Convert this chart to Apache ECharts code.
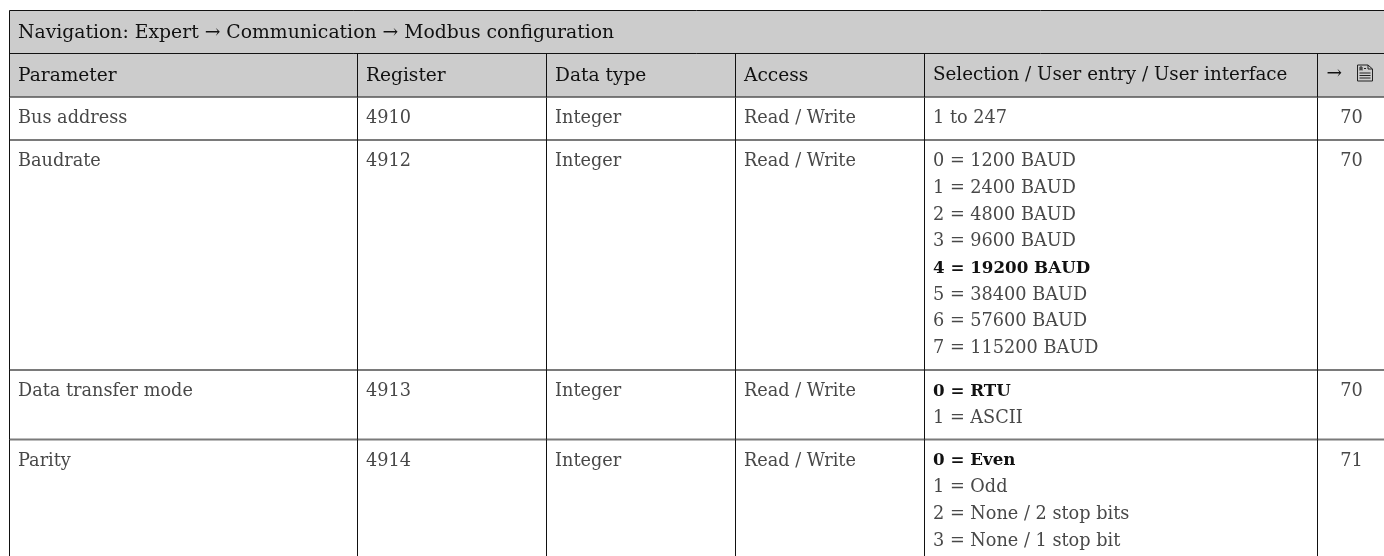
<!DOCTYPE html>
<html>
<head>
<meta charset="utf-8">
<style>
  html, body { margin: 0; padding: 0; background: #fff; }
  #main { width: 1384px; height: 556px; }
</style>
<script src="https://cdn.jsdelivr.net/npm/echarts@6/dist/echarts.min.js"></script>
</head>
<body>
<div id="main"></div>
<script>
// table content
const navigationTitle = 'Navigation: Expert \u2192 Communication \u2192 Modbus configuration';
const columnTitles = ['Parameter', 'Register', 'Data type', 'Access', 'Selection / User entry / User interface'];
const parameters = ['Bus address', 'Baudrate', 'Data transfer mode', 'Parity'];
const registers = ['4910', '4912', '4913', '4914'];
const dataTypes = ['Integer', 'Integer', 'Integer', 'Integer'];
const accessModes = ['Read / Write', 'Read / Write', 'Read / Write', 'Read / Write'];
const selections = [
  ['1 to 247'],
  ['0 = 1200 BAUD', '1 = 2400 BAUD', '2 = 4800 BAUD', '3 = 9600 BAUD', '4 = 19200 BAUD', '5 = 38400 BAUD', '6 = 57600 BAUD', '7 = 115200 BAUD'],
  ['0 = RTU', '1 = ASCII'],
  ['0 = Even', '1 = Odd', '2 = None / 2 stop bits', '3 = None / 1 stop bit']
];
// which selection line is the factory default (printed bold), -1 = none
const defaultLines = [-1, 4, 0, 0];
const pages = ['70', '70', '70', '71'];

// layout, in page pixels
const colX = [9.5, 357.5, 546.5, 735.5, 924.5, 1317.5];
const tableTop = 10.5;
const titleHeight = 43;
const headHeight = 43.5;
const lineHeight = 26.7;
const firstLine = 21.5;
const headLine = 22.2;
const padLeft = 8.5;
const pageCenter = 1351.5;
const fontFamily = '"DejaVu Serif", serif';
const bodySize = 17.7;
const headSize = 18.6;
const titleSize = 18.8;
const lastHeadSize = 18.3;
const boldSize = 16.7;

const headY = tableTop + titleHeight;
const bodyY = headY + headHeight;

// y of each body row's top edge comes from how many lines it holds
const rowTops = [];
selections.reduce((y, lines, i) => {
  rowTops[i] = y;
  return y + 43 + (lines.length - 1) * lineHeight;
}, bodyY);

const chart = echarts.init(document.getElementById('main'), null, { renderer: 'canvas' });

const textEl = (api, x, y, text, opt = {}) => {
  const p = api.coord([x, y]);
  return {
    type: 'text',
    style: {
      x: p[0],
      y: p[1],
      text,
      fill: opt.fill || '#484848',
      font: `${opt.bold ? 'bold ' : ''}${opt.size || bodySize}px ${fontFamily}`,
      textAlign: opt.align || 'left',
      textVerticalAlign: 'middle'
    }
  };
};

const lineEl = (api, x1, y1, x2, y2, stroke, width) => {
  const a = api.coord([x1, y1]);
  const b = api.coord([x2, y2]);
  return {
    type: 'line',
    shape: { x1: a[0], y1: a[1], x2: b[0], y2: b[1] },
    style: { stroke, lineWidth: width }
  };
};

const rectEl = (api, x1, y1, x2, y2, fill) => {
  const a = api.coord([x1, y1]);
  const b = api.coord([x2, y2]);
  return {
    type: 'rect',
    shape: { x: a[0], y: a[1], width: b[0] - a[0], height: b[1] - a[1] },
    style: { fill }
  };
};

// little "see page" document symbol of the last column head
const pageIcon = (api, x, y) => {
  const p = api.coord([x, y]);
  return {
    type: 'path',
    x: p[0],
    y: p[1],
    shape: {
      pathData: 'M0.5 0.5H11L15.5 4.5V16.5H0.5Z M2.5 8.5H13.5 M2.5 11H13.5 M2.5 13.5H13.5 M3 6V2.5L5 2.5V6 M3 4.5H5 M7 4H9 M11 0.5V4.5H15.5',
      layout: 'none'
    },
    style: { fill: 'none', stroke: '#222', lineWidth: 1 }
  };
};

const renderHeader = (params, api) => {
  const right = api.getWidth();
  const children = [
    rectEl(api, colX[0], tableTop, right, bodyY, '#cccccc'),
    lineEl(api, colX[0], tableTop, right, tableTop, '#111', 1),
    lineEl(api, colX[0], headY, right, headY, '#111', 1),
    lineEl(api, colX[0], bodyY, right, bodyY, '#555', 1.5),
    textEl(api, colX[0] + padLeft, tableTop + headLine, navigationTitle, { fill: '#111', size: titleSize })
  ];
  colX.slice(1).forEach(x => children.push(lineEl(api, x, headY, x, bodyY, '#111', 1)));
  columnTitles.forEach((t, i) => {
    const size = i === columnTitles.length - 1 ? lastHeadSize : headSize;
    children.push(textEl(api, colX[i] + padLeft, headY + headLine, t, { fill: '#111', size }));
  });
  children.push(textEl(api, colX[5] + 9, headY + 21, '\u2192', { fill: '#111', size: headSize }));
  children.push(pageIcon(api, 1357, headY + 11));
  children.push(lineEl(api, colX[0], tableTop, colX[0], bodyY, '#111', 1));
  return { type: 'group', children };
};

const renderRow = (params, api) => {
  const i = api.value(0);
  const top = rowTops[i];
  const lines = selections[i];
  const bottom = top + 43 + (lines.length - 1) * lineHeight;
  const textY = top + firstLine;
  const children = [];
  children.push(lineEl(api, colX[0], bottom, api.getWidth(), bottom, '#7a7a7a', 2));
  colX.forEach(x => children.push(lineEl(api, x, top, x, bottom, '#111', 1)));
  children.push(textEl(api, colX[0] + padLeft, textY, parameters[i]));
  children.push(textEl(api, colX[1] + padLeft, textY, registers[i]));
  children.push(textEl(api, colX[2] + padLeft, textY, dataTypes[i]));
  children.push(textEl(api, colX[3] + padLeft, textY, accessModes[i]));
  lines.forEach((t, k) => {
    const bold = k === defaultLines[i];
    children.push(textEl(api, colX[4] + padLeft, textY + k * lineHeight, t, bold ? { bold: true, fill: '#111', size: boldSize } : {}));
  });
  children.push(textEl(api, pageCenter, textY, pages[i], { align: 'center' }));
  return { type: 'group', children };
};

chart.setOption({
  animation: false,
  tooltip: { show: false },
  grid: { left: 0, right: 0, top: 0, bottom: 0 },
  xAxis: { type: 'value', min: 0, max: 1384, show: false },
  yAxis: { type: 'value', min: 0, max: 556, inverse: true, show: false },
  series: [
    { type: 'custom', silent: true, clip: true, renderItem: renderRow, data: parameters.map((p, i) => [i]), encode: { x: 0, y: 0 } },
    { type: 'custom', silent: true, clip: true, renderItem: renderHeader, data: [[0]], encode: { x: 0, y: 0 } }
  ]
});
</script>
</body>
</html>
